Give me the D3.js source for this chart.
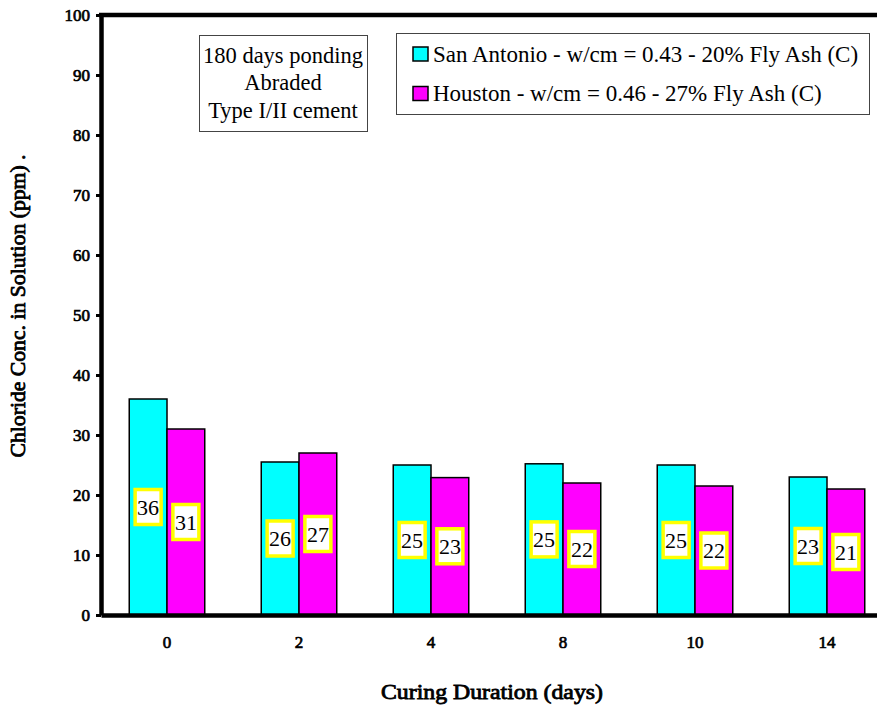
<!DOCTYPE html>
<html>
<head>
<meta charset="utf-8">
<script src="https://cdn.jsdelivr.net/npm/d3@7"></script>
</head>
<body style="margin:0;background:#fff">
<svg id="chart" width="877" height="709" style="display:block"></svg>
<script>
const categories = ["0", "2", "4", "8", "10", "14"];
const seriesNames = [
  "San Antonio - w/cm = 0.43 - 20% Fly Ash (C)",
  "Houston - w/cm = 0.46 - 27% Fly Ash (C)"
];
const sanAntonio = [36, 25.5, 25, 25.2, 25, 23];
const houston = [31, 27, 22.9, 22, 21.5, 21];
const seriesColors = ["#00FFFF", "#FF00FF"];
const yTicks = [0, 10, 20, 30, 40, 50, 60, 70, 80, 90, 100];
const noteLines = ["180 days ponding", "Abraded", "Type I/II cement"];
const xTitle = "Curing Duration (days)";
const yTitle = "Chloride Conc. in Solution (ppm) .";

(function () {
const FONT = '"Liberation Serif"';
const svg = d3.select("#chart");
const pLeft = 101, pRight = 893, pTop = 15, pBottom = 615;

// faux-bold serif text (stroke thickens normal-weight glyphs)
function boldish(sel, w) {
  return sel.style("font-family", FONT).style("font-weight", "normal")
    .attr("fill", "#000").attr("stroke", "#000").attr("stroke-width", w)
    .attr("paint-order", "stroke");
}

const y = d3.scaleLinear().domain([0, 100]).range([pBottom, pTop]);
const x0 = d3.scaleBand().domain(categories).range([pLeft, pRight])
  .paddingInner(0.428).paddingOuter(0.214);
const x1 = d3.scaleBand().domain([0, 1]).range([0, x0.bandwidth()]);

const data = categories.map((c, i) => ({ cat: c, vals: [sanAntonio[i], houston[i]] }));

// bars
const groups = svg.append("g").selectAll("g").data(data).join("g")
  .attr("transform", d => `translate(${x0(d.cat)},0)`);
groups.selectAll("rect").data(d => d.vals.map((v, k) => ({ v, k }))).join("rect")
  .attr("x", d => x1(d.k))
  .attr("y", d => y(d.v))
  .attr("width", x1.bandwidth())
  .attr("height", d => y(0) - y(d.v))
  .attr("fill", d => seriesColors[d.k])
  .attr("stroke", "#000")
  .attr("stroke-width", 1.5);

// value labels
const lab = groups.selectAll("g.lab").data(d => d.vals.map((v, k) => ({ v, k }))).join("g")
  .attr("class", "lab")
  .attr("transform", d => `translate(${x1(d.k) + x1.bandwidth() / 2},${(y(d.v) + y(0)) / 2})`);
lab.append("rect")
  .attr("x", -13).attr("y", -17.5).attr("width", 26).attr("height", 35)
  .attr("fill", "#fff").attr("stroke", "#FFFF00").attr("stroke-width", 3.5);
lab.append("text")
  .attr("text-anchor", "middle").attr("dy", "0.35em")
  .style("font-family", FONT).style("font-weight", "normal").style("font-size", "22px").attr("fill", "#000")
  .text(d => Math.round(d.v));

// y axis
const yAxis = svg.append("g").attr("transform", `translate(${pLeft},0)`)
  .call(d3.axisLeft(y).tickValues(yTicks).tickSize(5).tickSizeOuter(0).tickPadding(6));
yAxis.attr("font-family", null);
yAxis.select(".domain").attr("stroke-width", 4.5);
yAxis.selectAll(".tick line").attr("stroke-width", 3);
boldish(yAxis.selectAll(".tick text"), 0.7).style("font-size", "17px");

// x axis
const xAxis = svg.append("g").attr("transform", `translate(0,${pBottom})`)
  .call(d3.axisBottom(x0).tickSize(0).tickPadding(21));
xAxis.attr("font-family", null);
xAxis.select(".domain").attr("stroke-width", 4.5);
boldish(xAxis.selectAll(".tick text"), 0.7).style("font-size", "17px");

// top border
svg.append("line").attr("x1", pLeft - 2).attr("x2", 877).attr("y1", y(100)).attr("y2", y(100))
  .attr("stroke", "#000").attr("stroke-width", 4.5);

// axis titles
boldish(svg.append("text"), 0.8).attr("x", 492).attr("y", 699).attr("text-anchor", "middle")
  .style("font-size", "21px").attr("textLength", 222).attr("lengthAdjust", "spacingAndGlyphs")
  .text(xTitle);
boldish(svg.append("text"), 0.8).attr("transform", "translate(25,306) rotate(-90)")
  .attr("text-anchor", "middle").style("font-size", "21px")
  .attr("textLength", 303).attr("lengthAdjust", "spacingAndGlyphs").text(yTitle);

// note box
svg.append("rect").attr("x", 199.5).attr("y", 35.5).attr("width", 168).attr("height", 96)
  .attr("fill", "#fff").attr("stroke", "#444").attr("stroke-width", 1);
svg.append("g").selectAll("text").data(noteLines).join("text")
  .attr("x", 283).attr("y", (d, i) => 62.5 + i * 27.5).attr("text-anchor", "middle")
  .style("font-family", FONT).style("font-size", "22.5px").text(d => d);

// legend
svg.append("rect").attr("x", 396.5).attr("y", 33.5).attr("width", 473).attr("height", 81)
  .attr("fill", "#fff").attr("stroke", "#444").attr("stroke-width", 1);
const leg = svg.append("g").selectAll("g").data(seriesNames).join("g")
  .attr("transform", (d, i) => `translate(413,${54 + i * 39.5})`);
leg.append("rect").attr("x", 0).attr("y", -7).attr("width", 15).attr("height", 14)
  .attr("fill", (d, i) => seriesColors[i]).attr("stroke", "#000").attr("stroke-width", 1.5);
leg.append("text").attr("x", 20).attr("y", 7.5)
  .style("font-family", FONT).style("font-size", "23px").text(d => d);
})();
</script>
</body>
</html>
